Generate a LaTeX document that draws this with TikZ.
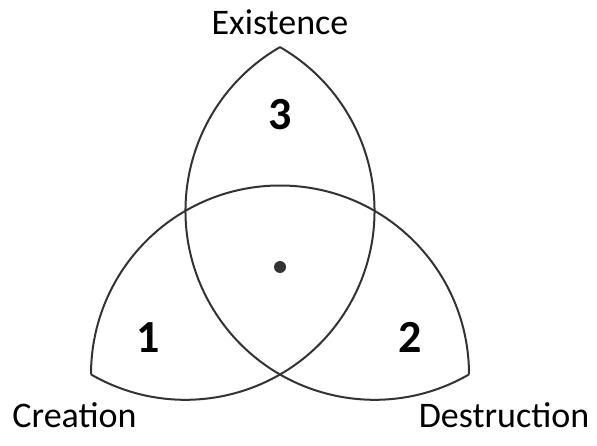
\documentclass[tikz,border=0pt]{standalone}
\usepackage{fontspec}
\setmainfont[Ligatures=Common]{Carlito}
\definecolor{linegray}{HTML}{333333}
\begin{document}
\begin{tikzpicture}[x=1pt,y=1pt,
  arcline/.style={draw=linegray,line width=2pt},
  caption/.style={font=\fontsize{36}{36}\selectfont,anchor=base,inner sep=0pt},
  digit/.style={font=\fontsize{46}{46}\selectfont\bfseries,anchor=base,inner sep=0pt}]
\useasboundingbox (0,0) rectangle (597,445);
\coordinate (BL) at (91,70.5);
\coordinate (BR) at (469,70.5);
\coordinate (T) at (280,397.9);
% three semicircles on the sides of the triangle
\draw[arcline] (BL) arc[start angle=180,end angle=0,radius=189];
\draw[arcline] (T) arc[start angle=120,end angle=300,radius=189];
\draw[arcline] (T) arc[start angle=60,end angle=-120,radius=189];
\fill[linegray] (280,178) circle (6) coordinate (dot);
\node[caption] (exist) at (280,410) {Existence};
\node[caption] (crea) at (74.5,18) {Creation};
\node[caption] (dest) at (504,18) {Destruction};
\node[digit] (three) at (280,315) {3};
\node[digit] (one) at (148,93) {1};
\node[digit] (two) at (410,93) {2};
\end{tikzpicture}
\end{document}
